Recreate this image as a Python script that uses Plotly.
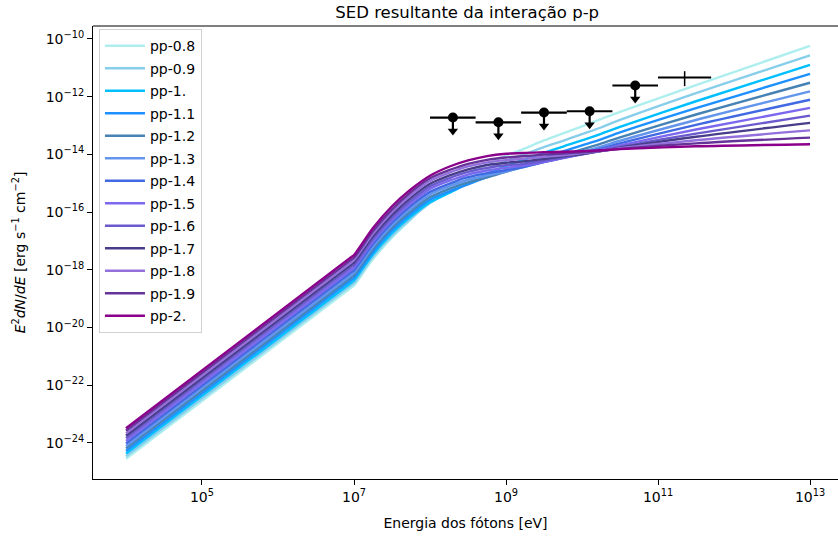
import plotly.graph_objects as go

# ---------------- data ----------------
energy_ev = [1e4, 9.33e6, 1e7, 1.778e7, 3.162e7, 5.623e7, 1e8, 1.778e8, 3.162e8, 5.623e8,
             1e9, 1.778e9, 3.162e9, 5.623e9, 1e10, 1.778e10, 3.162e10, 3.162e11, 1e13]

series_names = ["pp-0.8", "pp-0.9", "pp-1.", "pp-1.1", "pp-1.2", "pp-1.3", "pp-1.4",
                "pp-1.5", "pp-1.6", "pp-1.7", "pp-1.8", "pp-1.9", "pp-2."]

# log10 of E^2 dN/dE [erg s^-1 cm^-2]
log_sed_pp_08 = [-24.55, -18.61, -18.55, -17.63, -16.89, -16.25, -15.60, -15.12, -14.69, -14.34,
                 -14.05, -13.79, -13.52, -13.27, -13.03, -12.78, -12.53, -11.60, -10.24]
log_sed_pp_09 = [-24.46, -18.52, -18.46, -17.55, -16.82, -16.22, -15.69, -15.27, -14.86, -14.52,
                 -14.23, -13.99, -13.75, -13.53, -13.30, -13.07, -12.81, -11.88, -10.57]
log_sed_pp_10 = [-24.37, -18.43, -18.37, -17.46, -16.73, -16.15, -15.66, -15.34, -15.00, -14.68,
                 -14.41, -14.17, -13.95, -13.73, -13.52, -13.29, -13.05, -12.16, -10.90]
log_sed_pp_11 = [-24.28, -18.34, -18.28, -17.38, -16.64, -16.06, -15.57, -15.29, -15.04, -14.79,
                 -14.54, -14.32, -14.10, -13.90, -13.69, -13.48, -13.24, -12.40, -11.21]
log_sed_pp_12 = [-24.19, -18.25, -18.19, -17.29, -16.55, -15.97, -15.48, -15.20, -14.97, -14.80,
                 -14.60, -14.40, -14.21, -14.02, -13.83, -13.63, -13.41, -12.62, -11.52]
log_sed_pp_13 = [-24.11, -18.17, -18.11, -17.20, -16.46, -15.88, -15.39, -15.11, -14.88, -14.73,
                 -14.60, -14.43, -14.26, -14.09, -13.91, -13.73, -13.53, -12.81, -11.82]
log_sed_pp_14 = [-24.02, -18.08, -18.02, -17.11, -16.37, -15.78, -15.30, -15.02, -14.79, -14.65,
                 -14.55, -14.42, -14.27, -14.12, -13.97, -13.80, -13.62, -12.98, -12.11]
log_sed_pp_15 = [-23.93, -17.99, -17.93, -17.02, -16.28, -15.69, -15.20, -14.92, -14.70, -14.56,
                 -14.47, -14.38, -14.26, -14.13, -14.00, -13.85, -13.69, -13.14, -12.39]
log_sed_pp_16 = [-23.84, -17.90, -17.84, -16.93, -16.19, -15.60, -15.11, -14.83, -14.61, -14.47,
                 -14.38, -14.32, -14.22, -14.11, -14.00, -13.88, -13.74, -13.28, -12.66]
log_sed_pp_17 = [-23.75, -17.81, -17.75, -16.84, -16.10, -15.50, -15.02, -14.74, -14.52, -14.37,
                 -14.29, -14.24, -14.16, -14.07, -13.99, -13.89, -13.77, -13.39, -12.91]
log_sed_pp_18 = [-23.67, -17.73, -17.67, -16.75, -16.00, -15.41, -14.92, -14.64, -14.42, -14.28,
                 -14.20, -14.15, -14.09, -14.03, -13.96, -13.89, -13.79, -13.51, -13.17]
log_sed_pp_19 = [-23.58, -17.64, -17.58, -16.66, -15.91, -15.31, -14.83, -14.55, -14.33, -14.19,
                 -14.11, -14.06, -14.01, -13.97, -13.93, -13.88, -13.81, -13.62, -13.42]
log_sed_pp_20 = [-23.49, -17.55, -17.49, -16.55, -15.80, -15.21, -14.74, -14.43, -14.21, -14.06,
                 -13.98, -13.95, -13.93, -13.91, -13.89, -13.86, -13.82, -13.72, -13.65]

all_series = [log_sed_pp_08, log_sed_pp_09, log_sed_pp_10, log_sed_pp_11, log_sed_pp_12,
              log_sed_pp_13, log_sed_pp_14, log_sed_pp_15, log_sed_pp_16, log_sed_pp_17,
              log_sed_pp_18, log_sed_pp_19, log_sed_pp_20]

series_colors = ["#AFEEEE", "#87CEEB", "#00BFFF", "#1E90FF", "#4682B4", "#6495ED", "#4169E1",
                 "#7B68EE", "#6A5ACD", "#483D8B", "#9370DB", "#663399", "#8B008B"]

# observed flux points (upper limits) and one detection
ul_energy = [2.0e8, 7.94e8, 3.16e9, 1.26e10, 5.01e10]
ul_bin_low = [1.0e8, 3.98e8, 1.58e9, 6.31e9, 2.51e10]
ul_bin_high = [3.98e8, 1.58e9, 6.31e9, 2.51e10, 1.0e11]
ul_flux = [1.88e-13, 1.29e-13, 2.81e-13, 3.11e-13, 2.43e-12]
ul_arrow_end = [6.4e-14, 4.4e-14, 9.5e-14, 1.05e-13, 8.2e-13]

det_energy = [2.24e11]
det_bin_low = [1.0e11]
det_bin_high = [5.0e11]
det_flux = [4.6e-12]
det_flux_high = [7.6e-12]
det_flux_low = [2.3e-12]

x_tick_vals = [1e5, 1e7, 1e9, 1e11, 1e13]
x_tick_text = ["10<sup>5</sup>", "10<sup>7</sup>", "10<sup>9</sup>", "10<sup>11</sup>", "10<sup>13</sup>"]
y_tick_vals = [1e-10, 1e-12, 1e-14, 1e-16, 1e-18, 1e-20, 1e-22, 1e-24]
y_tick_text = ["10<sup>\u221210</sup>", "10<sup>\u221212</sup>", "10<sup>\u221214</sup>",
               "10<sup>\u221216</sup>", "10<sup>\u221218</sup>", "10<sup>\u221220</sup>",
               "10<sup>\u221222</sup>", "10<sup>\u221224</sup>"]

# ---------------- figure ----------------
FONT = "DejaVu Sans"
fig = go.Figure()

for name, vals, col in zip(series_names, all_series, series_colors):
    fig.add_trace(go.Scatter(
        x=energy_ev, y=[10 ** v for v in vals], mode="lines", name=name,
        legendgroup=name, line=dict(color=col, width=2.4, shape="spline", smoothing=0.8),
        hoverinfo="skip"))

# upper limits: horizontal bin bars, points, downward arrow stems
fig.add_trace(go.Scatter(
    x=ul_energy, y=ul_flux, mode="markers", showlegend=False,
    marker=dict(color="black", size=10, symbol="circle"),
    error_x=dict(type="data", symmetric=False,
                 array=[h - c for h, c in zip(ul_bin_high, ul_energy)],
                 arrayminus=[c - l for l, c in zip(ul_bin_low, ul_energy)],
                 color="black", thickness=2.2, width=0),
    error_y=dict(type="data", symmetric=False,
                 array=[0] * len(ul_flux),
                 arrayminus=[f - a for f, a in zip(ul_flux, ul_arrow_end)],
                 color="black", thickness=2.2, width=0)))
fig.add_trace(go.Scatter(
    x=ul_energy, y=ul_arrow_end, mode="markers", showlegend=False,
    marker=dict(color="black", size=9, symbol="triangle-down")))

# detection point
fig.add_trace(go.Scatter(
    x=det_energy, y=det_flux, mode="markers", showlegend=False,
    marker=dict(color="black", size=1),
    error_x=dict(type="data", symmetric=False,
                 array=[h - c for h, c in zip(det_bin_high, det_energy)],
                 arrayminus=[c - l for l, c in zip(det_bin_low, det_energy)],
                 color="black", thickness=2.2, width=0),
    error_y=dict(type="data", symmetric=False,
                 array=[h - f for h, f in zip(det_flux_high, det_flux)],
                 arrayminus=[f - l for l, f in zip(det_flux_low, det_flux)],
                 color="black", thickness=1.5, width=0)))

fig.update_layout(
    width=838, height=541,
    margin=dict(l=93, r=0, t=26, b=62),
    paper_bgcolor="white", plot_bgcolor="white",
    font=dict(family=FONT, size=14, color="black"),
    title=dict(text="SED resultante da interação p-p", x=0.5575,
               xanchor="center", y=0.978, yanchor="middle",
               font=dict(family=FONT, size=16.5, color="black")),
    showlegend=True,
    legend=dict(x=0.008, y=0.993, xanchor="left", yanchor="top",
                bgcolor="rgba(255,255,255,0.8)", bordercolor="#d0d0d0", borderwidth=1,
                font=dict(family=FONT, size=14, color="black"),
                tracegroupgap=1.3, traceorder="grouped", itemwidth=40),
    xaxis=dict(type="log", range=[3.566, 13.368], showgrid=False, zeroline=False,
               showline=True, linecolor="black", linewidth=1.1, mirror=False,
               ticks="outside", ticklen=5, tickwidth=1, tickcolor="black",
               tickvals=x_tick_vals, ticktext=x_tick_text,
               tickfont=dict(family=FONT, size=14),
               title=dict(text="Energia dos fótons [eV]", standoff=14,
                          font=dict(family=FONT, size=14))),
    yaxis=dict(type="log", range=[-25.25, -9.553], showgrid=False, zeroline=False,
               showline=True, linecolor="black", linewidth=1.1, mirror=False,
               ticks="outside", ticklen=5, tickwidth=1, tickcolor="black",
               tickvals=y_tick_vals, ticktext=y_tick_text,
               tickfont=dict(family=FONT, size=14),
               title=dict(text="<i>E</i><sup>2</sup><i>dN</i>/<i>dE</i> [erg s<sup>\u22121</sup> cm<sup>\u22122</sup>]",
                          standoff=16, font=dict(family=FONT, size=14))),
    shapes=[dict(type="line", xref="paper", yref="paper", x0=0, x1=1, y0=1, y1=1,
                 line=dict(color="black", width=1.1))],
)

fig.write_html("out.html", config={"displayModeBar": False},
               post_script="document.body.style.margin='0';")
